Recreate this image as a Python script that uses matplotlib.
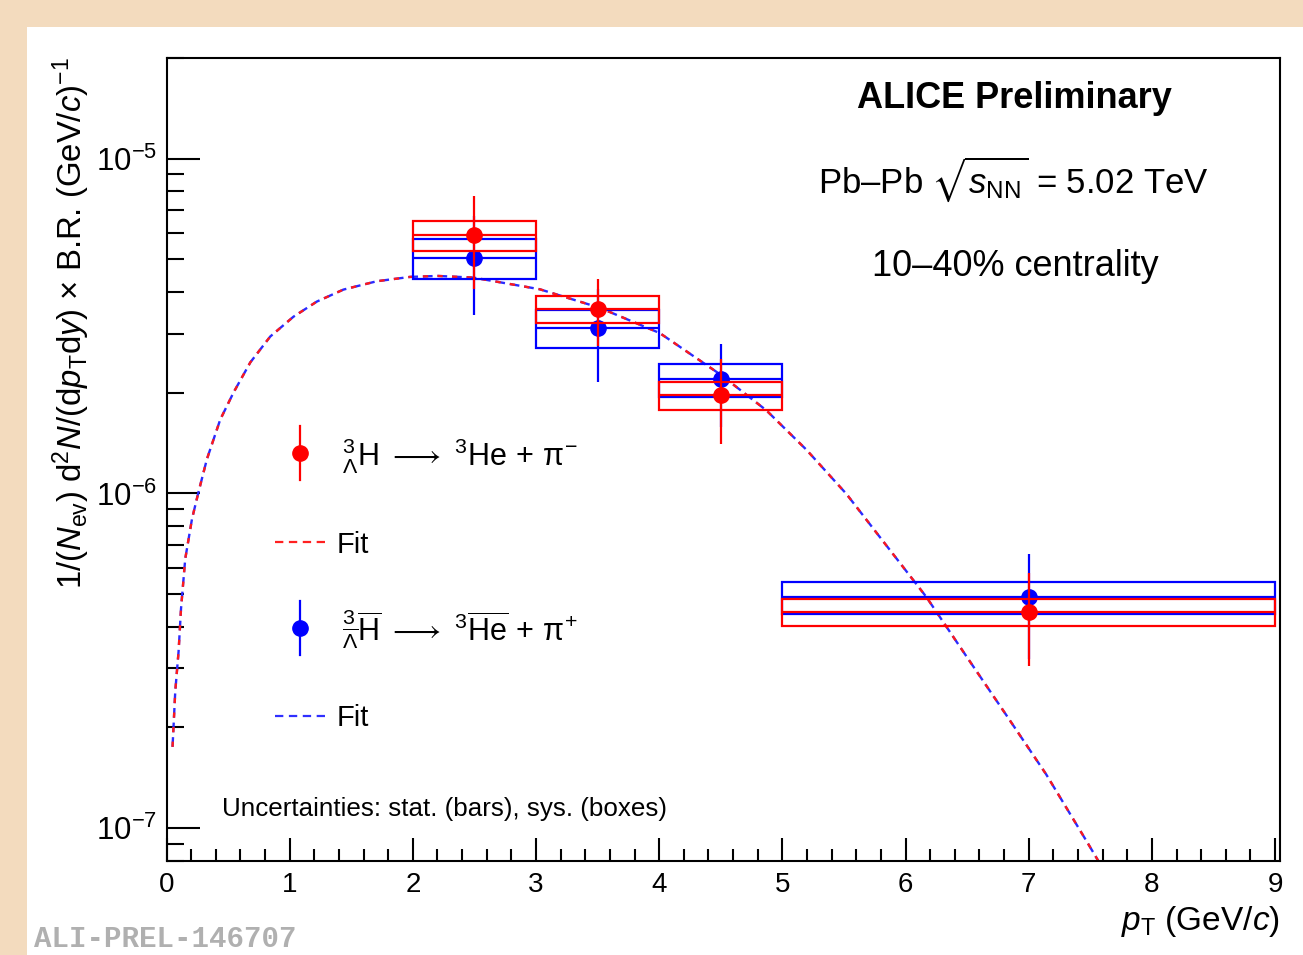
import matplotlib
matplotlib.use('Agg')
import matplotlib.pyplot as plt
from matplotlib.patches import Rectangle
from matplotlib.lines import Line2D
from matplotlib.ticker import LogLocator, LogFormatterMathtext, MultipleLocator, NullFormatter

plt.rcParams['font.family'] = ['Liberation Sans', 'DejaVu Sans']
plt.rcParams['mathtext.fontset'] = 'custom'
plt.rcParams['mathtext.rm'] = 'Liberation Sans'
plt.rcParams['mathtext.it'] = 'Liberation Sans:italic'
plt.rcParams['mathtext.bf'] = 'Liberation Sans:bold'
plt.rcParams['mathtext.sf'] = 'Liberation Sans'
plt.rcParams['mathtext.fallback'] = 'stixsans'
plt.rcParams['lines.scale_dashes'] = False

# ---------------- data ----------------
bin_lo = [2.0, 3.0, 4.0, 5.0]
bin_hi = [3.0, 4.0, 5.0, 9.0]
pt_points = [2.5, 3.5, 4.5, 7.0]

# hypertriton (red)
h_yield = [5.91e-6, 3.56e-6, 1.965e-6, 4.42e-7]
h_stat = [1.84e-6, 0.80e-6, 0.56e-6, 1.36e-7]
h_sys = [0.61e-6, 0.33e-6, 0.185e-6, 0.415e-7]

# anti-hypertriton (blue)
ah_yield = [5.06e-6, 3.12e-6, 2.19e-6, 4.90e-7]
ah_stat = [1.66e-6, 0.97e-6, 0.61e-6, 1.70e-7]
ah_sys = [0.69e-6, 0.40e-6, 0.25e-6, 0.545e-7]

# fit curve
fit_pt = [0.049, 0.071, 0.098, 0.118, 0.152, 0.207, 0.26, 0.328, 0.436, 0.544,
          0.68, 0.842, 1.031, 1.221, 1.436, 1.707, 1.977, 2.2, 2.49, 3.03,
          3.52, 4.005, 4.5, 4.87, 5.195, 5.519, 5.843, 6.168, 6.492, 6.817,
          7.141, 7.465, 7.6]
fit_val = [1.75e-7, 2.56e-7, 3.37e-7, 4.53e-7, 6.37e-7, 8.39e-7, 1.01e-6, 1.265e-6, 1.66e-6, 2.00e-6,
           2.46e-6, 2.94e-6, 3.37e-6, 3.74e-6, 4.06e-6, 4.30e-6, 4.43e-6, 4.46e-6, 4.41e-6, 4.07e-6,
           3.58e-6, 3.01e-6, 2.26e-6, 1.77e-6, 1.35e-6, 9.97e-7, 7.0e-7, 4.91e-7, 3.27e-7, 2.18e-7,
           1.45e-7, 9.21e-8, 7.6e-8]

x_ticks = [0, 1, 2, 3, 4, 5, 6, 7, 8, 9]

W, H = 1303, 955
def fx(px):
    return px / W
def fy(py):
    return 1 - py / H

fig = plt.figure(figsize=(W / 100, H / 100), dpi=100, facecolor='#F3DBBE')
fig.patches.append(Rectangle((fx(26.7), 0), 1 - fx(26.7), fy(26.7), transform=fig.transFigure,
                             facecolor='white', edgecolor='none', zorder=-10))

ax_l, ax_r, ax_t, ax_b = 166.5, 1280, 57.7, 860.7
ax = fig.add_axes([fx(ax_l), fy(ax_b), (ax_r - ax_l) / W, (ax_b - ax_t) / H])
ax.set_zorder(1)
ax.set_facecolor('none')
ax.set_yscale('log')
ax.set_xlim(0, 9.04)
ax.set_ylim(8.0e-8, 2.0e-5)

for sp in ax.spines.values():
    sp.set_linewidth(1.5)

ax.xaxis.set_major_locator(MultipleLocator(1))
ax.xaxis.set_minor_locator(MultipleLocator(0.2))
ax.set_xticks(x_ticks)
ax.set_xticklabels([str(t) for t in x_ticks])
ax.yaxis.set_major_locator(LogLocator(base=10))
ax.yaxis.set_minor_locator(LogLocator(base=10, subs=[2, 3, 4, 5, 6, 7, 8, 9], numticks=20))
ax.yaxis.set_major_formatter(LogFormatterMathtext())
ax.yaxis.set_minor_formatter(NullFormatter())
ax.tick_params(axis='x', which='major', direction='in', length=16.5, width=1.5, labelsize=20, pad=8)
ax.tick_params(axis='x', which='minor', direction='in', length=8.5, width=1.5)
ax.tick_params(axis='y', which='major', direction='in', length=24, width=1.5, labelsize=22.5, pad=7)
ax.tick_params(axis='y', which='minor', direction='in', length=12, width=1.5)
ax.tick_params(top=False, right=False, which='both')

# fits: blue dashes underneath, red covering the first half of each dash
ax.plot(fit_pt, fit_val, color='#2a2aff', lw=1.7, linestyle=(0, (7, 3.5)), zorder=2)
ax.plot(fit_pt, fit_val, color='#ff1a1a', lw=1.7, linestyle=(0, (3.8, 6.7)), zorder=2.1)

def draw_series(yv, st, sy, color, z):
    for lo, hi, x, y, e, s in zip(bin_lo, bin_hi, pt_points, yv, st, sy):
        ax.add_patch(Rectangle((lo, y - s), hi - lo, 2 * s, fill=False, edgecolor=color,
                               lw=1.6, zorder=z))
    ax.hlines(yv, bin_lo, bin_hi, colors=color, lw=1.6, zorder=z)
    ax.vlines(pt_points, [y - e for y, e in zip(yv, st)], [y + e for y, e in zip(yv, st)],
              colors=color, lw=1.6, zorder=z)
    ax.plot(pt_points, yv, 'o', ms=11, color=color, mec=color, zorder=z + 0.1, ls='none')

draw_series(ah_yield, ah_stat, ah_sys, '#0000ff', 3)
draw_series(h_yield, h_stat, h_sys, '#ff0000', 4)

# legend (manual)
def lx(px):
    return (px - ax_l) / (ax_r - ax_l)
def ly(py):
    return (ax_b - py) / (ax_b - ax_t)

for color, my, label, by in [
        ('#ff0000', 453, r'${}^{3}_{\Lambda}\mathrm{H}\ \longrightarrow\ {}^{3}\mathrm{He}\,+\,\mathrm{\pi}^{-}$', 465.7),
        ('#0000ff', 628, r'${}^{3}_{\overline{\Lambda}}\overline{\mathrm{H}}\ \longrightarrow\ {}^{3}\overline{\mathrm{He}}\,+\,\mathrm{\pi}^{+}$', 640.5)]:
    ax.add_line(Line2D([lx(300), lx(300)], [ly(my + 26.7), ly(my - 26.7)], color=color, lw=1.6,
                       transform=ax.transAxes))
    ax.add_line(Line2D([lx(300)], [ly(my)], marker='o', ms=11, color=color, ls='none',
                       transform=ax.transAxes))
    ax.text(lx(342), ly(by), label, transform=ax.transAxes, fontsize=22, ha='left', va='baseline')

for color, my, by in [('#ff2020', 541.7, 552.7), ('#3030ff', 716, 726)]:
    ax.add_line(Line2D([lx(275), lx(327)], [ly(my), ly(my)], color=color, lw=1.6,
                       linestyle=(0, (6, 4)), transform=ax.transAxes))
    ax.text(lx(337), ly(by), 'Fit', transform=ax.transAxes, fontsize=21, ha='left', va='baseline')

# texts
fig.text(fx(1014), fy(99), 'ALICE Preliminary', fontsize=26, fontweight='bold', ha='center', va='center')
fig.text(fx(1013), fy(179), r'Pb–Pb $\sqrt{s_{\mathrm{NN}}}$ = 5.02 TeV', fontsize=25, ha='center', va='center')
fig.text(fx(1015), fy(267), '10–40% centrality', fontsize=26, ha='center', va='center')
fig.text(fx(222), fy(809), 'Uncertainties: stat. (bars), sys. (boxes)', fontsize=18.7, ha='left', va='center')

fig.text(fx(71), fy(57), r'1/($N_{\mathrm{ev}}$) d$^{2}$$N$/(d$p_{\mathrm{T}}$d$y$) $\times$ B.R. (GeV/$c$)$^{\mathrm{-1}}$',
         fontsize=23.7, rotation=90, ha='center', va='top')
fig.text(fx(1280), fy(930), r'$p_{\mathrm{T}}$ (GeV/$c$)', fontsize=24, ha='right', va='baseline')

fig.text(fx(34), fy(947), 'ALI-PREL-146707', fontsize=21, family='Liberation Mono', fontweight='bold',
         color='#b0b0b0', ha='left', va='baseline')

fig.savefig('out.png', dpi=100, facecolor=fig.get_facecolor())
